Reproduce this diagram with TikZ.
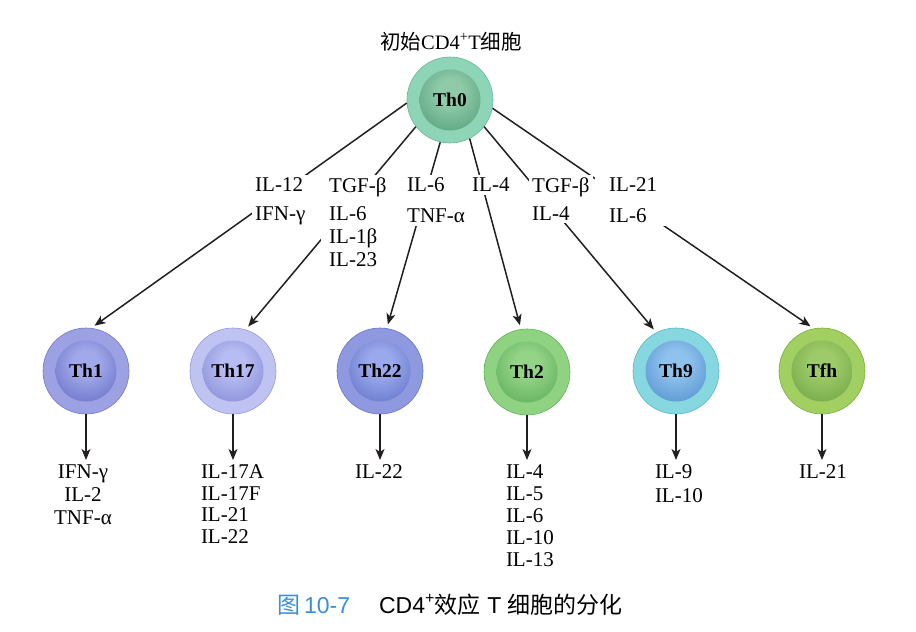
\documentclass[tikz,border=0pt]{standalone}
\usepackage{fontspec}
\setmainfont{Liberation Serif}
\setsansfont{Liberation Sans}
\newfontfamily\cjk{Noto Sans CJK SC}
\usetikzlibrary{arrows.meta}

\definecolor{capblue}{HTML}{3B8FD4}
\definecolor{linec}{HTML}{231F20}

\newcommand\DeclCell[5]{%
  \definecolor{#1rl}{HTML}{#2}\definecolor{#1rd}{HTML}{#3}%
  \definecolor{#1cl}{HTML}{#4}\definecolor{#1cd}{HTML}{#5}%
  \pgfdeclareradialshading{#1ring}{\pgfpoint{0bp}{0bp}}{color(0bp)=(#1rl);color(36bp)=(#1rl);color(45bp)=(#1rl);color(50bp)=(#1rd);color(72bp)=(#1rd)}%
  \pgfdeclareradialshading{#1core}{\pgfpoint{0bp}{8bp}}{color(0bp)=(#1cl);color(10bp)=(#1cl);color(50bp)=(#1cd);color(72bp)=(#1cd)}%
}
\DeclCell{ThZero}{8ED4B6}{66B896}{8FCBA9}{3A8966}
\DeclCell{ThOne}{9CA1E3}{7378C9}{A2A9EA}{4A52B5}
\DeclCell{ThSeventeen}{BFC3F2}{9498DA}{B7BCF2}{6C72C8}
\DeclCell{ThTwentyTwo}{8E99E0}{6673C8}{9BA9EC}{4659B6}
\DeclCell{ThTwo}{8FD282}{5FB457}{94D487}{3F9A45}
\DeclCell{ThNine}{86D7DF}{56B8C7}{8FC3EE}{3476BD}
\DeclCell{TfhCell}{A2CF62}{77AF3C}{9ECB6A}{5A9232}

\tikzset{
  cellring/.style={circle, minimum size=86pt, inner sep=0pt, outer sep=0.3pt, shade, shading=#1ring, draw=#1rd, line width=0.6pt},
  celltxt/.style={font=\bfseries\fontsize{19.5}{20}\selectfont, inner sep=1pt},
  lbl/.style={fill=white, align=left, anchor=north west, inner xsep=3pt, inner ysep=3pt, font=\fontsize{21}{23}\selectfont},
  outl/.style={anchor=north, align=center, inner sep=0pt, outer xsep=0pt, outer ysep=5pt, font=\fontsize{21}{22}\selectfont},
  conn/.style={draw=linec, line width=1.5pt, -{Stealth[length=11pt,width=9pt,inset=3pt]}, shorten >=4pt},
  down/.style={draw=linec, line width=1.5pt, -{Stealth[length=11pt,width=9pt,inset=3pt]}},
}

\begin{document}
\begin{tikzpicture}[x=1pt,y=-1pt]
\useasboundingbox[fill=white] (0,0) rectangle (916,632);

% title
\node[font=\fontsize{20.5}{22}\selectfont, anchor=base, inner sep=0pt] (title) at (451,49) {{\cjk 初始}CD4\textsuperscript{+}T{\cjk 细胞}};

% cells
\node[cellring=ThZero] (th0) at (450,100) {};
\shade[shading=ThZerocore] (th0.center) circle[radius=30.5pt];
\node[celltxt] (th0t) at (th0.center) {Th0};

\node[cellring=ThOne] (th1) at (86,371) {};
\shade[shading=ThOnecore] (th1.center) circle[radius=30.5pt];
\node[celltxt] (th1t) at (th1.center) {Th1};

\node[cellring=ThSeventeen] (th17) at (233,371) {};
\shade[shading=ThSeventeencore] (th17.center) circle[radius=30.5pt];
\node[celltxt] (th17t) at (th17.center) {Th17};

\node[cellring=ThTwentyTwo] (th22) at (380,371) {};
\shade[shading=ThTwentyTwocore] (th22.center) circle[radius=30.5pt];
\node[celltxt] (th22t) at (th22.center) {Th22};

\node[cellring=ThTwo] (th2) at (527,372) {};
\shade[shading=ThTwocore] (th2.center) circle[radius=30.5pt];
\node[celltxt] (th2t) at (th2.center) {Th2};

\node[cellring=ThNine] (th9) at (676,371) {};
\shade[shading=ThNinecore] (th9.center) circle[radius=30.5pt];
\node[celltxt] (th9t) at (th9.center) {Th9};

\node[cellring=TfhCell] (tfh) at (822,371) {};
\shade[shading=TfhCellcore] (tfh.center) circle[radius=30.5pt];
\node[celltxt] (tfht) at (tfh.center) {Tfh};

% connectors from Th0
\draw[conn] (th0.184) -- (th1.83);
\draw[conn] (th0.218) -- (th17.73);
\draw[conn] (th0.257) -- (th22.81);
\draw[conn] (th0.297) -- (th2.98);
\draw[conn] (th0.322) -- (th9.117);
\draw[conn] (th0.349) -- (tfh.101);

% inducing cytokine labels
\node[lbl] (l1) at (252,174.5) {IL-12\\[6pt]IFN-γ};
\node[lbl, inner xsep=8pt] (l2) at (321,174.5) {TGF-β\\[5pt]IL-6\\IL-1β\\IL-23};
\node[lbl] (l3) at (404,174.5) {IL-6\\[8pt]TNF-α};
\node[lbl] (l4) at (469,174.5) {IL-4};
\node[lbl] (l5) at (529,174.5) {TGF-β\\[5pt]IL-4};
\node[lbl, inner xsep=14pt] (l6) at (595,174.5) {IL-21\\[8pt]IL-6};

% secreted cytokines
\node[outl, font=\fontsize{21}{23}\selectfont] (o1) at (83,460) {IFN-γ\\IL-2\\TNF-α};
\node[outl, anchor=north west, align=left, font=\fontsize{21}{21.5}\selectfont] (o17) at (201,460) {IL-17A\\IL-17F\\IL-21\\IL-22};
\node[outl] (o22) at (379,460) {IL-22};
\node[outl, anchor=north west, align=left, font=\fontsize{21}{21.8}\selectfont] (o2) at (506,460) {IL-4\\IL-5\\IL-6\\IL-10\\IL-13};
\node[outl, anchor=north west, align=left, font=\fontsize{21}{24}\selectfont] (o9) at (655,460) {IL-9\\IL-10};
\node[outl] (ofh) at (823,460) {IL-21};

\draw[down] (th1.south) -- (th1.south |- o1.north);
\draw[down] (th17.south) -- (th17.south |- o17.north);
\draw[down] (th22.south) -- (th22.south |- o22.north);
\draw[down] (th2.south) -- (th2.south |- o2.north);
\draw[down] (th9.south) -- (th9.south |- o9.north);
\draw[down] (tfh.south) -- (tfh.south |- ofh.north);

% caption
\node[anchor=base west, inner sep=0pt, font=\sffamily\fontsize{23}{24}\selectfont] (cap) at (277,613) {\textcolor{capblue}{{\cjk 图}\,10-7}\hspace{29pt}CD4\textsuperscript{+}{\cjk 效应} T {\cjk 细胞的分化}};
\end{tikzpicture}
\end{document}
